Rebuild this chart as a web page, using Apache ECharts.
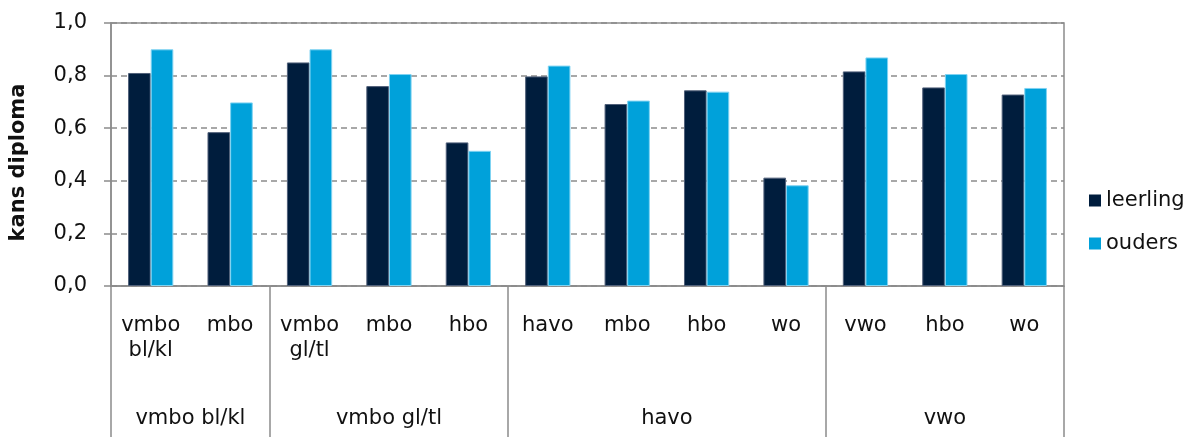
<!DOCTYPE html>
<html>
<head>
<meta charset="utf-8">
<script src="https://cdn.jsdelivr.net/npm/echarts@6/dist/echarts.min.js"></script>
<style>
  html, body { margin: 0; padding: 0; background: #fff; }
  #chart { width: 1184px; height: 437px; }
</style>
</head>
<body>
<div id="chart"></div>
<script>
  // categorieen (onderste rij = groepen)
  var levels = ['vmbo\nbl/kl', 'mbo', 'vmbo\ngl/tl', 'mbo', 'hbo', 'havo', 'mbo', 'hbo', 'wo', 'vwo', 'hbo', 'wo'];
  var groups = ['vmbo bl/kl', 'vmbo gl/tl', 'havo', 'vwo'];
  var groupSizes = [2, 3, 4, 3];

  var leerling = [0.81, 0.585, 0.85, 0.76, 0.546, 0.797, 0.692, 0.744, 0.412, 0.816, 0.755, 0.728];
  var ouders = [0.90, 0.698, 0.90, 0.806, 0.514, 0.838, 0.705, 0.739, 0.383, 0.869, 0.806, 0.753];

  var yTicks = ['0,0', '0,2', '0,4', '0,6', '0,8', '1,0'];

  // hulp-as met halve stappen: labels in het midden van een groep, streepjes op de grenzen
  var halfSlots = [];
  var labelAt = {};
  var tickAt = { 0: true };
  var pos = 0;
  for (var g = 0; g < groups.length; g++) {
    labelAt[pos + groupSizes[g]] = groups[g];
    pos += groupSizes[g] * 2;
    tickAt[pos] = true;
  }
  for (var k = 0; k <= levels.length * 2; k++) {
    halfSlots.push(labelAt[k] || '');
  }

  var font = 'DejaVu Sans';
  var grey = '#8c8c8c';
  var fs = 21;

  var chart = echarts.init(document.getElementById('chart'));
  chart.setOption({
    animation: false,
    textStyle: { fontFamily: font },
    grid: {
      left: 110, right: 120, top: 23, bottom: 151,
      show: true, borderColor: grey, borderWidth: 1.5
    },
    legend: {
      orient: 'vertical',
      left: 1089, top: 190,
      padding: 0,
      itemWidth: 12, itemHeight: 12, itemGap: 22,
      icon: 'rect',
      itemStyle: { borderWidth: 0 },
      textStyle: { fontFamily: font, fontSize: fs, color: '#111' },
      data: ['leerling', 'ouders']
    },
    xAxis: [{
      type: 'category',
      data: levels,
      axisLine: { lineStyle: { color: grey, width: 1.5 } },
      axisTick: { show: false },
      axisLabel: {
        interval: 0, margin: 27, fontSize: fs, lineHeight: 25,
        color: '#111', fontFamily: font
      }
    }, {
      type: 'category',
      position: 'bottom',
      boundaryGap: false,
      data: halfSlots,
      axisLine: { show: false },
      axisTick: {
        show: true, length: 151,
        interval: function (i) { return !!tickAt[i]; },
        lineStyle: { color: grey, width: 1.5 }
      },
      axisLabel: {
        interval: 0, margin: 122, fontSize: fs,
        color: '#111', fontFamily: font
      }
    }],
    yAxis: {
      type: 'value',
      min: 0, max: 1, interval: 0.2,
      name: 'kans diploma',
      nameLocation: 'middle',
      nameGap: 82,
      nameRotate: 90,
      nameTextStyle: {
        fontSize: fs, fontWeight: 'bold', color: '#111', fontFamily: font,
        padding: [0, 16, 0, 0]
      },
      axisLine: { show: true, lineStyle: { color: grey, width: 1.5 } },
      axisTick: { show: true, length: 7, lineStyle: { color: grey, width: 1.5 } },
      axisLabel: {
        margin: 24, fontSize: fs, color: '#111', fontFamily: font,
        formatter: function (v) { return yTicks[Math.round(v / 0.2)]; }
      },
      splitLine: { lineStyle: { color: grey, type: [6, 4], width: 1.5 } }
    },
    series: [{
      name: 'leerling',
      type: 'bar',
      data: leerling,
      barGap: '0%',
      barCategoryGap: '43%',
      itemStyle: { color: '#001d3d', borderColor: '#50607a', borderWidth: 1 }
    }, {
      name: 'ouders',
      type: 'bar',
      data: ouders,
      itemStyle: { color: '#00a1da', borderColor: '#7fd3f2', borderWidth: 1 }
    }]
  });
</script>
</body>
</html>
